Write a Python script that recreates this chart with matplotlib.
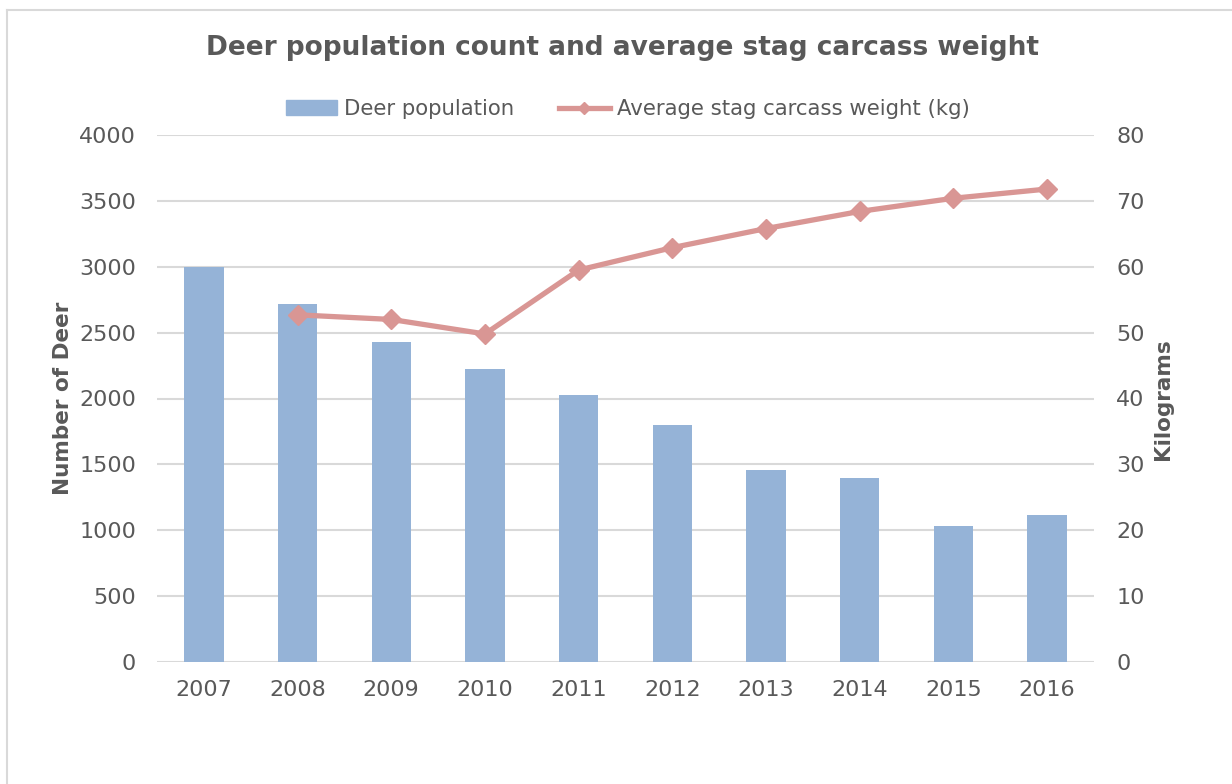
import numpy as np
import matplotlib
matplotlib.use("Agg")
import matplotlib.pyplot as plt
from matplotlib.lines import Line2D

years = ["2007", "2008", "2009", "2010", "2011", "2012", "2013", "2014", "2015", "2016"]
deer_population = [3000, 2717, 2432, 2224, 2029, 1798, 1460, 1400, 1035, 1119]
stag_weight = [np.nan, 52.7, 52.0, 49.8, 59.5, 62.9, 65.8, 68.4, 70.4, 71.8]
left_ticks = [0, 500, 1000, 1500, 2000, 2500, 3000, 3500, 4000]
right_ticks = [0, 10, 20, 30, 40, 50, 60, 70, 80]

TXT = "#595959"
GRID = "#d9d9d9"
BAR = "#95B3D7"
LINE = "#D99694"

plt.rcParams['font.family'] = ['DejaVu Sans']

W, H = 1232, 784
fig = plt.figure(figsize=(W / 100, H / 100), dpi=100)
ax = fig.add_axes([157 / W, 1 - 662 / H, (1094 - 157) / W, (662 - 135) / H])

x = np.arange(len(years))
ax.bar(x, deer_population, width=0.42, color=BAR, zorder=2)
ax.set_xlim(-0.5, len(years) - 0.5)
ax.set_ylim(0, 4000)
ax.set_yticks(left_ticks)
ax.set_xticks(x)
ax.set_xticklabels(years)
ax.yaxis.grid(True, color=GRID, linewidth=1.5, zorder=0)
ax.set_axisbelow(True)
for s in ax.spines.values():
    s.set_visible(False)
ax.tick_params(axis='y', length=0, pad=15, labelsize=16, labelcolor=TXT)
ax.tick_params(axis='x', length=0, pad=13, labelsize=16, labelcolor=TXT)
ax.set_ylabel("Number of Deer", fontsize=15.5, fontweight='bold', color=TXT)
ax.yaxis.label.set_va('center')
ax.yaxis.set_label_coords((63 - 157) / 937, (662 - 398) / 527)

ax2 = ax.twinx()
ax2.set_ylim(0, 80)
ax2.set_yticks(right_ticks)
for s in ax2.spines.values():
    s.set_visible(False)
ax2.tick_params(axis='y', length=0, pad=16, labelsize=16, labelcolor=TXT)
ax2.plot(x, stag_weight, color=LINE, linewidth=3.8, marker='D', markersize=10.5,
         markeredgecolor=LINE, markerfacecolor=LINE, zorder=3)
ax2.set_ylabel("Kilograms", fontsize=15.5, fontweight='bold', color=TXT)
ax2.yaxis.label.set_va('center')
ax2.yaxis.set_label_coords((1163 - 157) / 937, (662 - 399) / 527)

fig.text(622 / W, 1 - 48 / H, "Deer population count and average stag carcass weight",
         ha='center', va='center', fontsize=19, fontweight='bold', color=TXT)

handles = [
    plt.Rectangle((0, 0), 1, 1, color=BAR),
    Line2D([0], [0], color=LINE, linewidth=3.8, marker='D', markersize=6),
]
fig.legend(handles, ["Deer population", "Average stag carcass weight (kg)"],
           loc='center', bbox_to_anchor=(628 / W, 1 - 109 / H), ncol=2, frameon=False,
           fontsize=15.3, labelcolor=TXT, handlelength=2.4, handleheight=0.7,
           columnspacing=2.1, handletextpad=0.35)

# chart border
fig.add_artist(Line2D([7 / W, 1.0], [1 - 10 / H, 1 - 10 / H], transform=fig.transFigure,
                      color=GRID, linewidth=1.5))
fig.add_artist(Line2D([7 / W, 7 / W], [1 - 10 / H, 0], transform=fig.transFigure,
                      color=GRID, linewidth=1.5))

fig.savefig("out.png", dpi=100, facecolor='white')
